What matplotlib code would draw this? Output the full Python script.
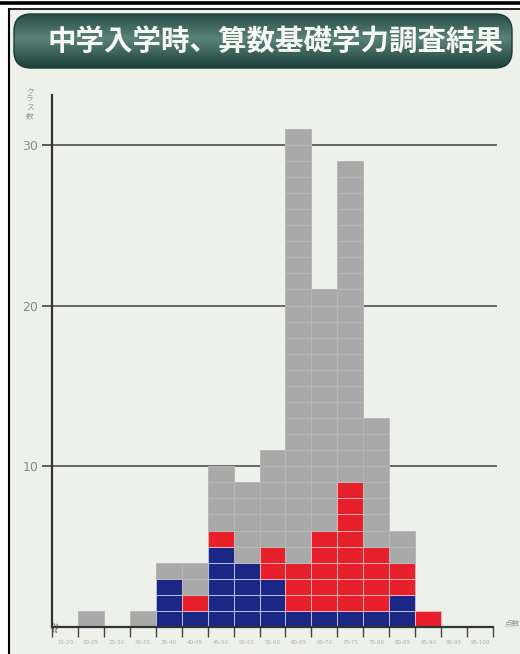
import matplotlib.pyplot as plt
import numpy as np
from matplotlib.patches import FancyBboxPatch, Rectangle
from matplotlib.colors import LinearSegmentedColormap

plt.rcParams['font.family'] = ['Noto Sans CJK JP', 'DejaVu Sans']

# データ (列ごと: 合計, 青, 赤)
title = '中学入学時、算数基礎学力調査結果'
totals = [0, 1, 0, 1, 4, 4, 10, 9, 11, 31, 21, 29, 13, 6, 1, 0, 0]
blue_counts = [0, 0, 0, 0, 3, 1, 5, 4, 3, 1, 1, 1, 1, 2, 0, 0, 0]
red_counts = [0, 0, 0, 0, 0, 1, 1, 0, 2, 3, 5, 8, 4, 2, 1, 0, 0]
x_labels = ['15-20', '20-25', '25-30', '30-35', '35-40', '40-45', '45-50',
            '50-55', '55-60', '60-65', '65-70', '70-75', '75-80', '80-85',
            '85-90', '90-95', '95-100']
y_ticks = [10, 20, 30]
y_label = 'クラス数'
x_unit = '点数'

# 色
c_gray = '#a9a9a9'
c_blue = '#1b2784'
c_red = '#e8202c'
c_page = '#eef0ea'

W, H = 520, 654
fig = plt.figure(figsize=(W / 100, H / 100), dpi=100)
fig.patch.set_facecolor('white')

# 背景用の座標系 (ピクセル単位, 上が0)
bax = fig.add_axes([0, 0, 1, 1], zorder=0)
bax.axis('off')

# 紙面と枠線
bax.add_patch(Rectangle((9, 8), W - 9, H - 8, facecolor=c_page, edgecolor='none', zorder=0))
bax.plot([0, W], [2.5, 2.5], color='black', lw=2.6, zorder=1)
bax.plot([9, W], [8.5, 8.5], color='black', lw=1.2, zorder=1)
bax.plot([9, 9], [8.5, H], color='black', lw=1.5, zorder=1)

# タイトル帯 (グラデーション)
bx0, bx1, by0, by1 = 14, 512, 14, 68
grad = np.linspace(0, 1, 200)
grad = 1 - np.abs(grad - 0.55) * 2
cmap = LinearSegmentedColormap.from_list('banner', ['#1c403a', '#5a8278'])
img = bax.imshow(grad[:, None] * np.ones((1, 10)), extent=[bx0, bx1, by1, by0],
                 cmap=cmap, aspect='auto', origin='lower', zorder=2)
banner = FancyBboxPatch((bx0, by0), bx1 - bx0, by1 - by0,
                        boxstyle='round,pad=0,rounding_size=17',
                        facecolor='none', edgecolor='#1a3a35', lw=1.0, zorder=3)
bax.add_patch(banner)
img.set_clip_path(banner)
bax.set_xlim(0, W)
bax.set_ylim(H, 0)
bax.text(276, (by0 + by1) / 2 + 1, title, color='#f6f8f4',
         fontsize=20.5, fontweight='bold', ha='center', va='center', zorder=4)

# グラフ本体
ax = fig.add_axes([52 / W, 27 / H, 441 / W, 532 / H], zorder=2)
ax.set_facecolor('none')
n = len(totals)
ax.set_xlim(0, n)
ax.set_ylim(0, 33.1)

for yt in y_ticks:
    ax.plot([0, n + 0.1], [yt, yt], color='#5a5a5a', lw=1.3, zorder=1, clip_on=False)

for i in range(n):
    for k in range(totals[i]):
        if k < blue_counts[i]:
            fc, ec = c_blue, '#b9c0ea'
        elif k < blue_counts[i] + red_counts[i]:
            fc, ec = c_red, '#f4b4b8'
        else:
            fc, ec = c_gray, '#b8b8b8'
        ax.bar(i + 0.5, 1, width=1.0, bottom=k, color=fc, edgecolor=ec,
               linewidth=0.7, zorder=3)

for s in ['top', 'right']:
    ax.spines[s].set_visible(False)
for s in ['left', 'bottom']:
    ax.spines[s].set_color('#333333')
    ax.spines[s].set_linewidth(1.6)
    ax.spines[s].set_zorder(4)

ax.set_yticks(y_ticks)
ax.set_yticklabels([str(t) for t in y_ticks], fontsize=9, color='#8a8a8a',
                   family='DejaVu Sans')
ax.tick_params(axis='y', length=7, width=1.2, color='#444444', pad=3)

ax.set_xticks(np.arange(n + 1))
ax.set_xticklabels([])
ax.tick_params(axis='x', which='major', direction='out', length=7, width=1.0,
               color='#444444')
ax.set_xticks(np.arange(n) + 0.5, minor=True)
ax.set_xticklabels(x_labels, minor=True, fontsize=4, color='#b0b0b0',
                   family='DejaVu Sans')
ax.tick_params(axis='x', which='minor', length=0, pad=9)

# 省略記号・単位
ax.text(0.15, 0, '≈', fontsize=9, color='#444444', ha='center', va='center',
        rotation=80, zorder=5)
ax.text(n + 0.45, 0.2, x_unit, fontsize=5.5, color='#999999', ha='left',
        va='center')
ax.text(-0.85, 33.6, '\n'.join(y_label), fontsize=5.5, color='#9a9a9a',
        ha='center', va='top', linespacing=1.1)

fig.savefig('out.png', dpi=100, facecolor=fig.get_facecolor())
